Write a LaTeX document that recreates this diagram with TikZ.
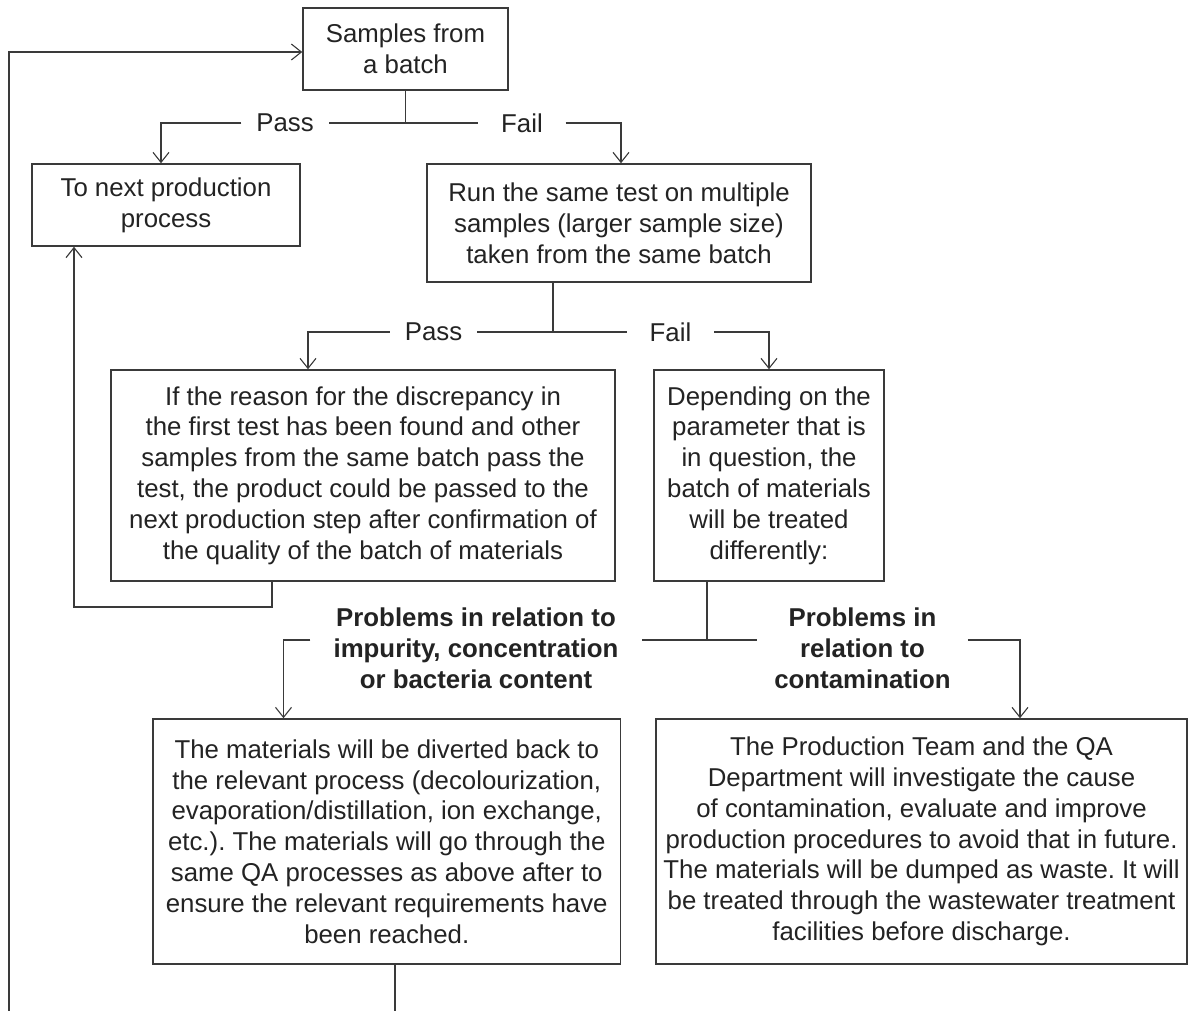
\documentclass[tikz,border=0pt]{standalone}
\usepackage{fontspec}
\setmainfont{Liberation Sans}
\usetikzlibrary{arrows.meta,calc}
\definecolor{ink}{HTML}{232323}
\definecolor{edge}{HTML}{3A3A3A}
\frenchspacing
\begin{document}
\frenchspacing
\begin{tikzpicture}[x=1pt,y=-1pt,
  box/.style={draw=edge, line width=1.6pt, text=ink, align=center, inner sep=0pt,
    font=\frenchspacing\fontsize{25.8}{30.8}\selectfont},
  lbl/.style={text=ink, inner sep=0pt, minimum width=87pt, font=\fontsize{25.8}{30.8}\selectfont},
  blbl/.style={text=ink, align=center, inner ysep=0pt, font=\bfseries\fontsize{25.8}{30.8}\selectfont},
  conn/.style={draw=edge, line width=1.3pt},
  arr/.style={conn, -{Straight Barb[length=10pt,width=16pt,line width=1.1pt]}}
]
\useasboundingbox[fill=white] (0,0) rectangle (1190,1010);

% boxes
\node[box, minimum width=205pt, minimum height=82pt] (b1) at (405.5,49) {Samples from\\a batch};
\node[box, minimum width=268pt, minimum height=82pt] (b2) at (166,205) {To next production\\process};
\node[box, minimum width=384pt, minimum height=118pt] (b3) at (619,223) {Run the same test on multiple\\samples (larger sample size)\\taken from the same batch};
\node[box, minimum width=504pt, minimum height=211pt] (b4) at (363,475.5) {If the reason for the discrepancy in\\the first test has been found and other\\samples from the same batch pass the\\test, the product could be passed to the\\next production step after confirmation of\\the quality of the batch of materials};
\node[box, minimum width=230pt, minimum height=211pt] (b5) at (769,475.5) {Depending on the\\parameter that is\\in question, the\\batch of materials\\will be treated\\differently:};
\node[box, minimum width=467.5pt, minimum height=245pt] (b6) at (386.75,841.5) {The materials will be diverted back to\\the relevant process (decolourization,\\evaporation/distillation, ion exchange,\\etc.). The materials will go through the\\same QA processes as above after to\\ensure the relevant requirements have\\been reached.};
\node[box, minimum width=531pt, minimum height=245pt] (b7) at (921.5,841.5) {The Production Team and the QA\\Department will investigate the cause\\of contamination, evaluate and improve\\production procedures to avoid that in future.\\The materials will be dumped as waste. It will\\be treated through the wastewater treatment\\facilities before discharge.};

% first split
\coordinate (j1) at (405.5,123);
\node[lbl] (p1) at (285,123) {Pass};
\node[lbl] (f1) at (522,123) {Fail};
\draw[conn] (b1.south) -- (j1);
\draw[conn] (j1) -- (p1.east);
\draw[conn] (j1) -- (f1.west);
\draw[arr] (p1.west) -| ([xshift=-5pt]b2.north);
\draw[arr] (f1.east) -| ([xshift=2pt]b3.north);

% second split
\coordinate (j2) at (553,332);
\node[lbl] (p2) at (433.5,332) {Pass};
\node[lbl] (f2) at (670.5,332) {Fail};
\draw[conn] ([xshift=-66pt]b3.south) -- (j2);
\draw[conn] (j2) -- (p2.east);
\draw[conn] (j2) -- (f2.west);
\draw[arr] (p2.west) -| ([xshift=-55pt]b4.north);
\draw[arr] (f2.east) -| (b5.north);

% pass back to next production process
\coordinate (r1) at (74,607);
\draw[arr] ([xshift=-91pt]b4.south) |- (r1) -- ([xshift=-92pt]b2.south);

% third split
\coordinate (j3) at (707,640);
\node[blbl, inner xsep=23pt] (q1) at (476,648) {Problems in relation to\\impurity, concentration\\or bacteria content};
\node[blbl, inner xsep=17pt] (q2) at (862.5,648) {Problems in\\relation to\\contamination};
\draw[conn] ([xshift=-62pt]b5.south) -- (j3);
\draw[conn] (j3) -- (j3 -| q1.east);
\draw[conn] (j3) -- (j3 -| q2.west);
\draw[arr] (j3 -| q1.west) -| ([xshift=-103.25pt]b6.north);
\draw[arr] (j3 -| q2.east) -| ([xshift=98.5pt]b7.north);

% loop back to the start
\coordinate (lb) at (9,1013);
\draw[arr] ([xshift=8.25pt]b6.south) |- (lb) |- ([yshift=-3pt]b1.west);
\end{tikzpicture}
\end{document}
